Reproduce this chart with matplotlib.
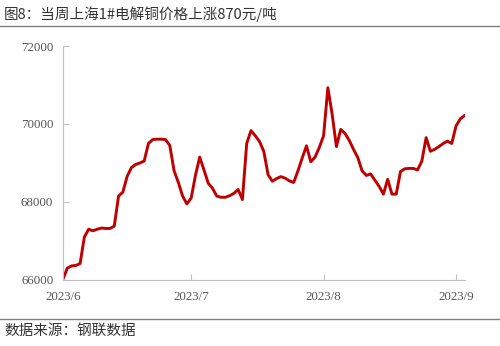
import pandas as pd
import matplotlib.pyplot as plt
from matplotlib.lines import Line2D

plt.rcParams['font.family'] = ['Noto Sans CJK SC', 'DejaVu Sans']

# dates and price (yuan/ton)
dates = pd.date_range("2023-06-01", "2023-09-03", freq="D")
prices = [
    # June
    66020, 66300, 66360, 66370, 66420, 67100, 67300, 67260, 67300, 67330,
    67320, 67320, 67380, 68150, 68250, 68650, 68880, 68960, 69000, 69050,
    69500, 69600, 69610, 69610, 69600, 69450, 68800, 68500, 68150, 67950,
    # July
    68100, 68680, 69150, 68820, 68480, 68350, 68150, 68120, 68120, 68160,
    68220, 68320, 68060, 69500, 69830, 69700, 69550, 69300, 68700, 68530,
    68600, 68650, 68610, 68540, 68500, 68800, 69130, 69440, 69030, 69150,
    69400,
    # August
    69700, 70930, 70250, 69420, 69860, 69760, 69580, 69350, 69140, 68800,
    68680, 68720, 68560, 68400, 68200, 68580, 68200, 68200, 68780, 68850,
    68860, 68860, 68820, 69050, 69650, 69300, 69350, 69420, 69500, 69560,
    69500,
    # September
    69950, 70130, 70220,
]

month_ticks = pd.to_datetime(["2023-06-01", "2023-07-01", "2023-08-01", "2023-09-01"])
month_labels = ["2023/6", "2023/7", "2023/8", "2023/9"]
y_ticks = [66000, 68000, 70000, 72000]

fig = plt.figure(figsize=(5, 3.46), dpi=100)
ax = fig.add_axes([0.126, 0.191, 0.804, 0.676])

ax.plot(dates, prices, color="#C00000", lw=2.1, solid_joinstyle="round", solid_capstyle="round")

ax.set_ylim(66000, 72000)
ax.set_xlim(pd.Timestamp("2023-06-01"), pd.Timestamp("2023-06-01") + pd.Timedelta(days=94.1))
ax.set_yticks(y_ticks)
ax.set_yticklabels([str(v) for v in y_ticks])
ax.set_xticks(month_ticks)
ax.set_xticklabels(month_labels)

for s in ["top", "right"]:
    ax.spines[s].set_visible(False)
for s in ["left", "bottom"]:
    ax.spines[s].set_color("#BFBFBF")
    ax.spines[s].set_linewidth(0.8)

ax.tick_params(axis="both", direction="in", length=4, color="#BFBFBF", width=0.8,
               labelsize=9.3, labelcolor="#555555")
ax.tick_params(axis="y", pad=7)
ax.tick_params(axis="x", pad=8)
for lab in ax.get_xticklabels() + ax.get_yticklabels():
    lab.set_fontfamily("Liberation Serif")

# header and footer
fig.text(0.008, 0.960, "图8：当周上海1#电解铜价格上涨870元/吨", fontsize=10.5,
         color="#333333", va="center", ha="left")
fig.add_artist(Line2D([0, 1], [0.925, 0.925], color="#808080", lw=1.0))
fig.add_artist(Line2D([0, 1], [0.077, 0.077], color="#808080", lw=1.0))
fig.text(0.008, 0.043, "数据来源：钢联数据", fontsize=10.5, color="#333333",
         va="center", ha="left")

fig.savefig("out.png", dpi=100)
